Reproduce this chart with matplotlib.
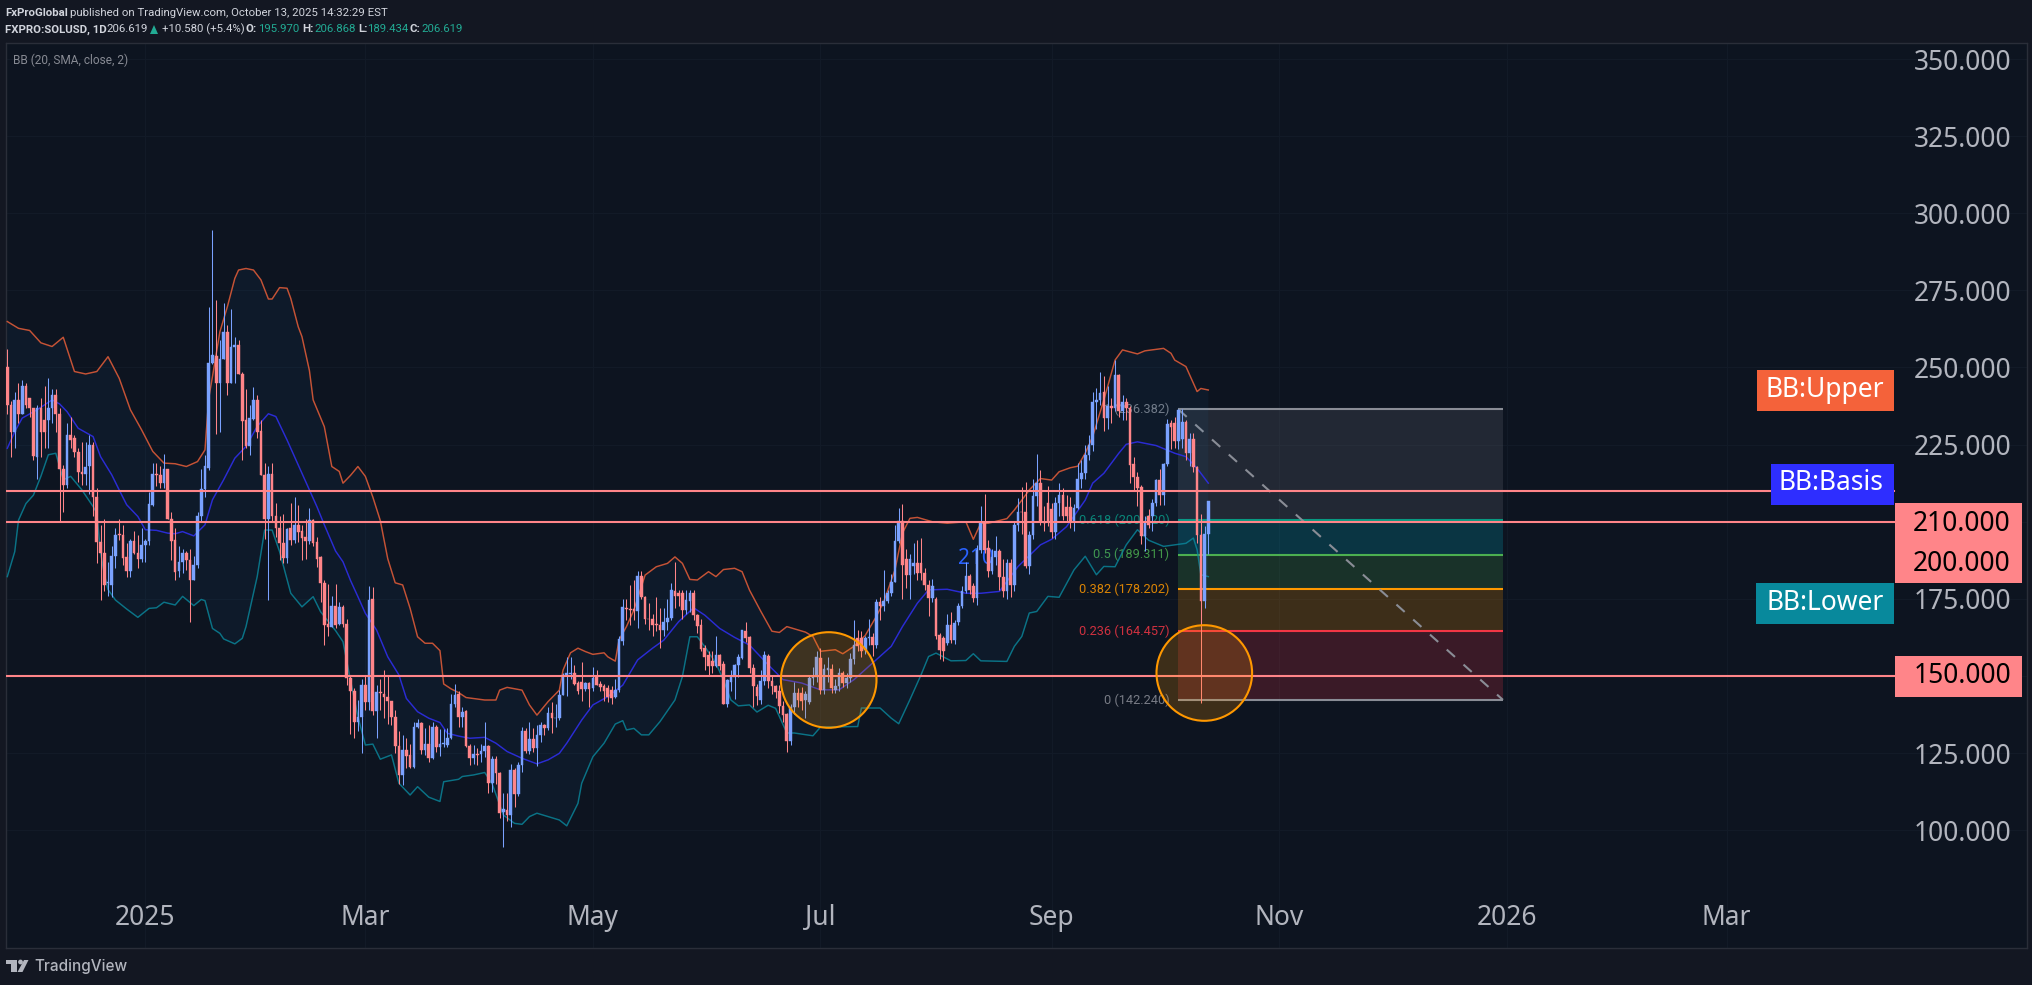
import matplotlib
matplotlib.use("Agg")
import matplotlib.dates as mdates
import matplotlib.pyplot as plt
import numpy as np
import pandas as pd
from matplotlib.patches import Circle, Polygon, Rectangle

plt.rcParams["font.family"] = ["Noto Sans", "DejaVu Sans"]

# daily candles, first candle 2024-11-25, last 2025-10-13
first_day = "2024-11-25"
opens = [
    250,238,229,239.5,235,244,240,237,221,237,233,233,237,241,235,217,212,228,227,222.5,
    216,215.5,218,225,208,193.5,190,180,179.5,189,196,195.7,188.5,184,193.7,190,188,192.5,193.7,205.5,
    215.5,215,212.7,217,201,194,184,187,190,187.5,181,186,201.7,210.5,217.3,251.5,253.7,245,252.7,261.4,
    245,256.5,257.3,248,233,224.6,233.3,239.5,229.3,215.2,201,215.4,202,198,193,188.3,198,194,199,197,
    195,193.7,200.5,193.5,188.4,180.2,166.8,166,172.7,167,172.4,167,149.2,145,135,136.6,147,141.7,175,138.7,
    144.9,144,143.3,142,136.6,127.3,118,126,124.4,120.6,133.3,134.6,126,128,123.3,133.3,127.1,128,127.6,129.8,
    141,144,136.8,138.7,127.3,123.3,124.7,124.7,125.8,127.3,115.2,123,118.4,106,106.6,105,119.5,111.7,121,132,
    125.8,129.5,126.5,130.9,134,133,137.9,136.3,136.3,143.8,150.3,150.5,150.8,147.8,148,145.8,147.8,146,149.6,147.4,
    146.7,146.2,145.4,143.3,145.4,161.4,172,171.8,171.8,171,182.4,175.7,168.6,168.6,166.8,166.5,164.9,167.6,168.7,177.5,
    176.8,176.8,171.4,174.4,177,169.7,166.5,158.9,156.8,155,153.3,156.8,154,140.9,148.1,149.8,153.5,155.7,164.7,162.7,
    152.5,146.4,142.3,148.2,156.5,148.2,146.6,145,140.1,137.7,128.8,139.9,144.4,144.4,142.3,141.7,149.3,149.8,155.8,145.5,
    152,152.3,145.5,146.6,150.9,147.7,149.3,155.6,162.3,162.3,158.5,162.2,162.5,159.9,174,172.7,174.4,176.8,180.6,193.6,
    200.3,188,182.8,185.5,186.5,186.5,183.3,179.5,175.4,174.9,163.3,162.3,160.6,166.6,161.7,167.6,172.7,177.7,182.5,179,
    175.2,190.9,199.5,191.4,183.9,188.7,190.6,182.2,177.7,186.6,179.5,199,203.3,203.3,185.5,195.7,208.2,212.5,200,206,
    204,196.8,206,208.7,204.9,204.9,200,204.4,213.8,215.7,221.6,224.9,238.9,239.5,242.2,233.5,237.5,236.8,247.6,236,
    238.7,236.8,218.7,214.6,211.4,195.4,201.7,201.7,206,213.5,208.7,218.7,231.9,231.9,226.3,226.7,232.4,222.2,226.8,217.9,
    195.7,174.4,195.97,
]
highs = [
    256,239,242,245,246,245,240,237,238,240,244,246.5,243,243,237,218.5,232,234,228,224,
    226,226,228,226,211,199,201,187,192,198,201,199,193,194.3,197,195.7,198,194.5,209.6,219,
    219,218,222,217,203,198,192,191,190.5,191,189,203,217,221.5,269.5,294.5,272,259,271,263.7,
    269,260,258.8,248.5,243,237.8,243.6,241,233,219,218,219,206,202,202.5,198,206,207.9,205.4,199,
    201,204.4,201,195,189,181,179.7,176,179.7,174,173,168.5,150,146,142.2,149,150,179,178.7,147,
    149,152,150,142,139,132,131,130,128,135,136,135,133,134,135,134,132.7,132.7,133,144,
    147.5,145,140,139,128,127.5,126.6,128,135,127.5,124,124,119,112,112,121.5,120,122,133.5,133,
    135,133,134,135,134.5,140,141.7,141,145.3,151,156,156,153.5,148.5,154.4,148,148,153,152,148.5,
    147.5,147,146.8,149,163,175,175,179.5,181,184,184,176,173.5,170,175.7,172,172,175,180,187,
    178,178,178,178,178,170,168.5,160,158,158,163,157,155,149,152,154,157,165,167.5,163,
    154,147.5,152,158,157,150,147,147,142,138,141,148,146,146.5,145,150,153,158,159,154,
    156,154,149,152.5,151.5,151,157.5,168,165,164.5,163,168.5,164,175,175.5,184.4,178,183,199,204.4,
    205.8,191,189.5,193,194,194.7,185,181,181.5,175.7,164,163,170,170.8,168,173.5,179,187,183,180,
    192.5,205,209,194,191,195.5,191,188,188,188,200,207.7,211.4,212.8,197,214,222,216.8,205,211.5,
    206,208,212.5,211,208.5,208,205.8,219,220,225,228,242,243.5,248.7,247.1,244,240,252.4,248,241,
    240,237.5,221,216,212,202,204,207.5,214,217,219,233.4,233,234,236.5,236.4,233,228.7,228.7,218,
    202.5,198.5,206.87,
]
lows = [
    235,221,224,232,235,237,234,220,214,221,224,224,232,229,200,203,211,224,221,213,
    212,212,209,202,186.5,174.6,177.5,176,175.7,185,194,186,182,182,189.5,185,187,187,192.5,205,
    211.5,211,211,201,187.5,181,182,183.5,184.5,167.5,181,185,200,208,216.8,251,228.5,229,252.7,241,
    245,245,248,220,224,221.7,233,227,215,194.5,174.6,200,195,187.7,186.6,186.6,192.5,193,193.5,187.6,
    188,192.8,192,185.4,174,160,163,166,165.5,166.5,165.8,147,131.3,130,132,125,139,139,137.5,130,
    139,136.5,134.5,134,125,115,114.5,120,120,120,133,124.6,124.5,122,123,125.5,124,127,127,129.5,
    140,133.5,133.5,127,121,121.5,121.2,122,123.7,112,112.5,115,104,94.7,103,101,107.5,111,119,125,
    124.6,125.5,120.9,128.7,130.9,132.4,131.4,133.5,135.6,143.8,143.5,149,147,144,142,145,140,145,147,145,
    141.8,141.5,141,142.7,144.8,160,168,166.5,168,165.6,175,167,165,163,164.6,159,163,165,168,172,
    172.6,168.6,170,170.7,168,164,158,152,150,151,152.8,152,140.9,140,145,142.5,149.5,155.5,161,151,
    140,140.6,141,147,146,144,143,138,135,125.5,127.6,137.6,140,139,136.5,141,147,148,144,144,
    148,144.5,144.5,145,146.5,146,148,154,158,156,157,160,156.5,159,168,171,173.5,176,180.6,193,
    175,178.5,175,183,181,181,178,169.5,174,162,155.5,155,160,160.8,160.5,166.5,172,177,176.5,174,
    173,190,190,182,183,186,177.8,175.5,175,175.5,177.5,197,196,185,183,194.5,205,199,197,198.5,
    194.8,194.5,202,200.5,200,198,197,204,211,214,220,223,230,238,229.5,230,232,236,234,233,
    233,212.5,209.9,205,192.8,190.5,198,197,205,205.5,205.5,218,223.5,224,223.5,224,220,218,216,193,
    141.2,172,189.43,
]
closes = [
    238,229,239.5,235,244,238,237,221.3,237,229,229,237,241,235,217,212,228,226.5,222.5,216,
    215.5,217.7,225,208,193.5,190,179.5,180.3,189,195.7,195.7,188.3,184,193.7,190,188,192.5,193.7,205.7,215.5,
    215.3,212.7,217,201,193.7,183.8,187,190,187.5,181,186,201.8,210.5,218,251.4,254,245,252.7,261.4,245,
    256.5,257.3,248,232.8,224.6,233.5,239.5,229,215,201,215.4,202,198,193,188.3,197.8,194,199,196.8,194.6,
    193.7,200.5,193,187.9,180.2,166.5,166,172.7,166.5,172.4,166.8,149.2,145,135,136.8,147,141.7,174.6,138.7,144.9,
    144.4,143.3,141.9,136.6,127.3,117.9,126,124,120.6,133.3,134.6,126,128,123.3,133.3,127,128,128.2,129.8,141,
    143.8,136.8,138.2,127.3,123.3,124.7,124.4,125.8,127.3,115.2,123,118.4,105.5,106.9,105,119.5,111.7,121,132,125.8,
    129.5,126.5,130.9,134,133,137.9,136.3,136.4,143.8,150.3,150.8,151,147.4,145,145.8,147.8,145.7,149.4,147.2,146.5,
    145.2,143.3,143,145.4,162,172.2,171.8,171.5,171.2,182.4,175.7,168.3,168.5,166.5,166.5,164.9,167.6,168.7,177.8,175.9,
    175.9,171.4,174.6,177,169.7,166.2,158.7,156.2,153.3,153.3,156.8,153.2,140.9,148.7,149.8,153.5,156,164.9,162.2,152.5,
    146.6,143.4,148.2,156.9,148.2,146.6,144.7,140.1,137.4,128.8,139.9,144.4,142.3,142,144,149.3,150,156,145.5,152.3,
    152.5,146,146.8,151.1,147.7,149.3,155.6,159.9,159.6,158,162.3,162.6,159.9,174,172.7,174.4,176.8,180.6,193.6,200.3,
    186,182.8,188,186.5,183.3,183.3,179.5,175.4,179,162.8,158.5,158,166.6,161.7,167.1,172.7,177.7,182.5,177.9,175.2,
    190.9,199.5,190.9,183.9,188.5,190.6,182.2,177.7,186.6,179.5,199,203.3,203,185.5,195.7,208.2,212.5,200,199.7,200,
    196.8,206,208.7,201.7,201.7,200,204.4,213.8,215.7,221.6,224.9,238.9,239.5,241.8,233.5,237.5,236.8,247.6,236,238.9,
    236.8,218.4,214.6,210.8,195.4,199.5,199,206,213.5,208.7,218.7,231.7,230.8,226.3,236.2,232.4,222.2,226.8,217.9,195.7,
    174.4,196,206.619,
]

# bollinger band lines, read at the days where their shape changes
upper_day = [
    0,3,6,9,12,15,18,21,24,27,30,33,36,39,42,45,48,51,53,54,55,57,59,61,62,64,66,68,70,71,73,75,76,78,79,81,82,85,87,89,
    90,92,94,96,98,100,102,104,106,108,110,112,114,116,117,119,121,123,128,131,132,134,138,140,142,145,148,149,151,153,
    155,157,160,161,163,164,166,168,171,174,177,179,181,183,185,188,190,192,195,197,199,202,205,207,209,214,216,218,222,
    224,227,230,233,235,238,240,242,244,248,252,257,259,261,263,268,270,272,274,277,280,282,285,287,289,291,294,297,299,
    303,305,310,312,313,316,319,320,322,
]
upper_val = [
    264.9,262.7,262,258,256.8,259.8,248.7,247.9,248.7,253.5,246.5,236.3,229.8,222.8,219,218.8,217.9,219.5,223.3,240,247,
    261.6,269.7,278.9,281.6,282.1,281.6,278.4,272.2,272.2,275.9,275.7,272.4,263.2,260,249,239.5,230.8,217.9,216.3,212.5,
    215,217.9,214.7,208,200.4,188,180.2,179.5,171.9,162.7,160.6,160.6,158.2,147.4,145.8,144.6,143,142.2,142.2,145.4,146.3,
    145.4,140.6,137.3,141.7,145.4,151.9,157.5,159,157.9,157,157.5,156.2,154.8,161.6,166,171.4,182.7,185.4,186.5,188.6,
    186.5,181.3,181.1,183.8,182.2,184.5,184.9,183.8,177.8,171,164.5,164.1,166,164.2,162.8,158,158.5,157.2,159.6,163.1,
    169.3,174.1,184.4,196.3,201.1,201.4,200,199.5,200,194.3,199.5,199.5,201,203.8,207,210.3,214,213.5,216.2,217.5,218,
    222.2,227.6,239.5,252.4,255.7,254.4,255.4,256.2,254.6,252.4,250.3,242.2,243.2,242.7,
]
basis_day = [
    0,2,4,8,12,14,16,19,23,25,28,30,32,35,37,40,43,45,47,50,53,55,58,61,64,67,70,72,75,78,81,83,85,88,90,92,94,96,99,102,
    105,107,110,113,116,118,121,124,128,131,134,138,142,145,148,150,154,157,161,165,169,173,176,180,184,187,191,195,199,
    204,208,213,218,223,227,232,237,240,244,247,252,257,261,266,271,277,280,284,289,291,294,298,300,303,308,313,316,319,322,
]
basis_val = [
    223.8,229.2,233.6,236.3,239.5,238.2,235.7,230.3,227.6,221.1,215.2,210.3,205.5,201.7,197.4,197.2,196.3,196.1,196.8,195.4,
    199,207.1,213.6,220.6,224.4,230.9,235,234.1,226.5,218.4,210.3,204.9,199,190.5,187,181,175.7,170.3,164.9,156.2,150.3,
    142.7,138.4,136.3,134.9,131.4,130.5,129.8,130.1,128.2,125.5,123.3,121.5,122.8,124.9,128.2,135.7,140.6,143.3,147,155.2,
    159,161.6,167.6,172.1,169.7,165.4,162.5,160,153.6,148.8,147.7,145.5,145.5,148.8,154.2,159.6,166,173.6,177.9,178.1,
    176.8,176.8,177.4,185.5,192.5,194.3,198.4,207,212.5,215.7,222.2,225.1,225.9,224.7,222.2,221.1,217.3,212.5,
]
lower_day = [
    0,2,3,5,7,9,11,13,15,17,20,23,24,25,26,27,29,32,35,38,40,42,45,47,50,52,53,55,57,58,61,63,64,67,69,71,73,76,79,82,84,
    88,90,92,94,96,98,100,103,105,108,110,113,116,117,121,122,125,128,130,133,136,138,140,142,148,150,153,154,157,160,163,
    165,166,168,170,172,175,179,181,183,185,187,190,192,194,196,199,201,204,206,209,211,216,218,228,229,234,237,239,242,
    245,247,249,253,257,259,261,268,270,272,274,276,279,282,286,289,292,294,297,300,303,306,310,316,318,319,320,322,
]
lower_val = [
    182.2,190.3,200.5,205.9,208.6,214.7,221.7,222.2,213.6,214.7,210.3,204.9,202.8,190,183,178,174.6,171.7,169,171.9,172.1,
    173.9,173,175.8,172.8,174.8,174.4,165.4,163.8,162,160.4,162.2,166,182.2,197.3,197.3,190.3,176.8,172.4,175.7,170.8,164.7,
    161.1,148.7,136.8,127.6,127.9,123,124.4,115.2,111.4,114.1,110.7,109.3,115.7,116.5,117.4,117.9,118.7,115,104.9,102.2,
    101.9,104.4,105.5,103.3,101.4,108.7,115.2,123.8,128.2,134.4,135.5,132.5,133,130.9,130.9,135.2,142.2,149.8,162.7,162.7,
    159.5,154.1,148.7,142.2,140.3,140.6,138.3,140.5,139.5,131.5,131.5,130.6,133.4,133.6,139.6,139.6,136.3,134.5,142.3,150.4,
    156.3,157.4,154.9,155,157.2,154.9,154.7,159.6,162.8,170.4,170.9,175.8,175.5,184.4,188.8,182.8,185.5,185.4,192.5,197.4,
    194,192,193,194.7,190.9,182.8,182.2,
]

# fibonacci retracement drawn over the last drop
fib_ratio = ["1", "0.618", "0.5", "0.382", "0.236", "0"]
fib_price = [236.382, 200.420, 189.311, 178.202, 164.457, 142.240]
fib_line = ["#8a8d96", "#089981", "#4caf50", "#ff9800", "#f23645", "#8a8d96"]
fib_fill = ["#787b86", "#00bcd4", "#4caf50", "#ff9800", "#f23645"]
fib_start_day, fib_end_day = 314, 401

level_price = [210, 200, 150]
price_ticks = list(range(100, 351, 25))
month_labels = ["2025", "Mar", "May", "Jul", "Sep", "Nov", "2026", "Mar"]
month_dates = ["2025-01-01", "2025-03-01", "2025-05-01", "2025-07-01", "2025-09-01", "2025-11-01", "2026-01-01", "2026-03-01"]

BG = "#131722"
PANE = "#0d1420"
UP = "#7aa2ff"
DOWN = "#ff8589"
TEXT = "#b2b5be"
HEAD = "#d1d4dc"
TEAL = "#22ab94"

fig = plt.figure(figsize=(20.33, 9.85), dpi=100, facecolor=BG)
ax = fig.add_axes([6 / 2033, 1 - 948 / 985, (2027 - 6) / 2033, (948 - 43) / 985], facecolor=PANE)

day0 = mdates.date2num(pd.Timestamp(first_day))
days = day0 + np.arange(len(closes))
o, h, l, c = map(np.array, (opens, highs, lows, closes))
h = np.maximum(h, np.maximum(o, c))
l = np.minimum(l, np.minimum(o, c))
colors = np.where(c >= o, UP, DOWN)

# fib under everything else
fx0, fx1 = day0 + fib_start_day, day0 + fib_end_day
for k, col in enumerate(fib_fill):
    ax.fill_between([fx0, fx1], fib_price[k], fib_price[k + 1], color=col, alpha=0.2, lw=0, zorder=1)
for ratio, price, col in zip(fib_ratio, fib_price, fib_line):
    ax.plot([fx0, fx1], [price, price], color=col, lw=1.5, zorder=1.5, solid_capstyle="butt")
    ax.text(fx0 - 2.4, price, f"{ratio} ({price:.3f})", color=col, fontsize=9.2, family="Roboto",
            ha="right", va="center", alpha=0.85, zorder=1.5)
ax.plot([fx0, fx1], [fib_price[0], fib_price[-1]], color="#8a8d96", lw=1.5, linestyle=(0, (5.3, 5.5)), zorder=1.5)

# bands
ux, lx, bx = day0 + np.array(upper_day), day0 + np.array(lower_day), day0 + np.array(basis_day)
ax.fill(np.r_[ux, lx[::-1]], np.r_[upper_val, lower_val[::-1]], color="#2196f3", alpha=0.05, lw=0, zorder=2)
ax.plot(ux, upper_val, color="#f4623a", lw=1.05, alpha=0.8, zorder=3)
ax.plot(bx, basis_val, color="#2e2ee8", lw=1.05, alpha=0.9, zorder=3)
ax.plot(lx, lower_val, color="#0a8a9f", lw=1.05, alpha=0.8, zorder=3)

ax.text(day0 + 255, 188, "210", color="#2962ff", fontsize=15, va="center", zorder=3)

# candles
ax.vlines(days, l, h, colors=colors, lw=0.75, zorder=5)
ax.bar(days, np.abs(c - o), width=0.72, bottom=np.minimum(o, c), color=colors, edgecolor=colors, linewidth=0.3, zorder=5.5)

for price in level_price:
    ax.axhline(price, xmax=(1894 - 6) / (2027 - 6), color=DOWN, lw=1.5, zorder=6)

ax.set_xlim(day0 - 0.35, day0 + 541.5)
ax.set_ylim(61.8, 355.2)
ax.set_yticks(price_ticks, [f"{p:.3f}" for p in price_ticks])
ax.yaxis.tick_right()
ax.set_xticks([mdates.date2num(pd.Timestamp(d)) for d in month_dates], month_labels)
ax.grid(color="#121a27", lw=0.8, zorder=0)
ax.set_axisbelow(True)
ax.tick_params(axis="y", length=0, pad=-11.5, labelsize=19, labelcolor=TEXT)
ax.tick_params(axis="x", length=0, pad=-32, labelsize=19, labelcolor=TEXT)
for lab in ax.get_yticklabels():
    lab.set_ha("right")
for lab in ax.get_xticklabels():
    if lab.get_text().isdigit():
        lab.set_fontweight("bold")
for spine in ax.spines.values():
    spine.set_color("#2a2e39")
    spine.set_linewidth(1)

# overlay in image pixels for drawings, price tags and the header
px = fig.add_axes([0, 0, 1, 1], facecolor="none", zorder=10)
px.set_xlim(0, 2033)
px.set_ylim(985, 0)
px.axis("off")

for cx, cy in [(828.7, 680), (1204.3, 673)]:
    px.add_patch(Circle((cx, cy), 47.8, facecolor="#ff9800", alpha=0.2, lw=0))
    px.add_patch(Circle((cx, cy), 47.8, facecolor="none", edgecolor="#ff9800", lw=1.5))

for x0, x1, y0, y1, col, label in [
    (1757, 1894, 370, 411, "#f4623a", "BB:Upper"),
    (1771, 1894, 464, 505, "#2e2eff", "BB:Basis"),
    (1756, 1894, 583, 624, "#08899c", "BB:Lower"),
]:
    px.add_patch(Rectangle((x0, y0), x1 - x0, y1 - y0, color=col, lw=0))
    px.text(1884, (y0 + y1) / 2 - 1, label, color="white", fontsize=19, ha="right", va="center")

px.add_patch(Rectangle((1895, 503), 127, 80, color=DOWN, lw=0))
px.add_patch(Rectangle((1895, 656), 127, 41, color=DOWN, lw=0))
for y, label in [(524, "210.000"), (564, "200.000"), (676, "150.000")]:
    px.text(2011, y, label, color="black", fontsize=19, ha="right", va="center")

# header, pieces placed where they sit in the picture
line1 = [(5, "FxProGlobal", HEAD, "bold"), (70, "published on TradingView.com, October 13, 2025 14:32:29 EST", HEAD, "normal")]
line2 = [
    (5, "FXPRO:SOLUSD, 1D", HEAD, "bold"), (106, "206.619", HEAD, "normal"), (162, "+10.580 (+5.4%)", HEAD, "normal"),
    (246, "O:", HEAD, "bold"), (258, "195.970", TEAL, "normal"), (302, "H:", HEAD, "bold"), (314, "206.868", TEAL, "normal"),
    (358, "L:", HEAD, "bold"), (367, "189.434", TEAL, "normal"), (410, "C:", HEAD, "bold"), (421, "206.619", TEAL, "normal"),
]
for x, label, col, weight in line1:
    px.text(x, 12.5, label, color=col, fontsize=8.2, family="Roboto", fontweight=weight, va="center")
for x, label, col, weight in line2:
    px.text(x, 29.5, label, color=col, fontsize=8.2, family="Roboto", fontweight=weight, va="center")
px.add_patch(Polygon([(150, 34), (158, 34), (154, 25)], color=TEAL, lw=0))
px.text(13, 60.5, "BB (20, SMA, close, 2)", color="#878a93", fontsize=8.6, family="Roboto", va="center")

# TradingView logo
logo = "#b2b5be"
px.add_patch(Polygon([(6, 960), (17, 960), (17, 972), (11, 972), (11, 964), (6, 964)], color=logo, lw=0))
px.add_patch(Circle((20.5, 962), 2.4, color=logo, lw=0))
px.add_patch(Polygon([(24, 960), (28.5, 960), (22.5, 972), (17.5, 972)], color=logo, lw=0))
px.text(34, 966.5, "TradingView", color=logo, fontsize=11, family="Inter", fontweight="medium", va="center")

fig.savefig("out.png", dpi=100, facecolor=BG)
